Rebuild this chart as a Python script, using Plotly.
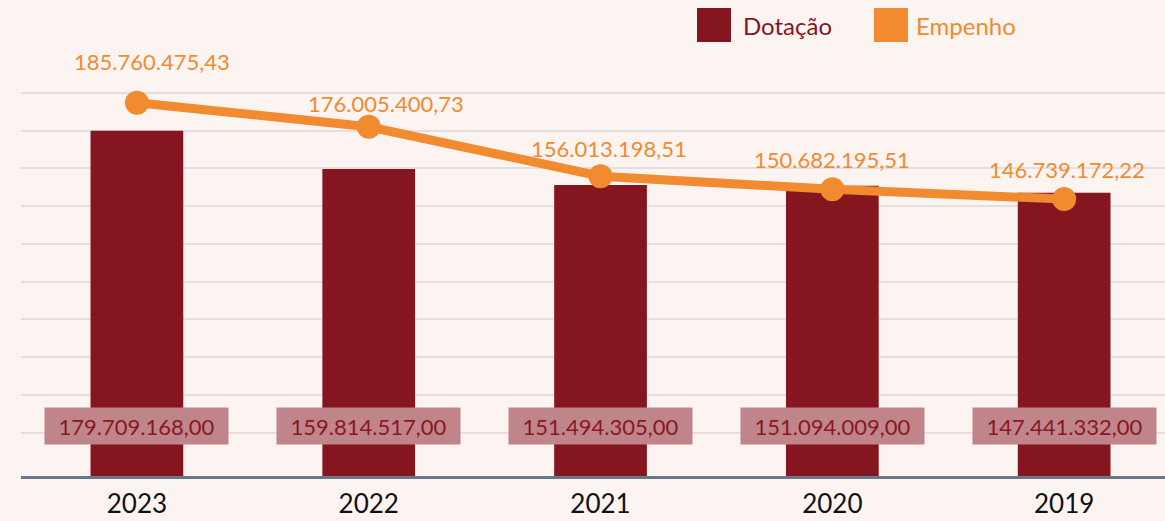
import plotly.graph_objects as go

# Budget data (R$)
years = ["2023", "2022", "2021", "2020", "2019"]
dotacao = [179709168.00, 159814517.00, 151494305.00, 151094009.00, 147441332.00]
empenho = [185760475.43, 176005400.73, 156013198.51, 150682195.51, 146739172.22]


def fmt_brl(v):
    s = f"{v:,.2f}"
    return s.replace(",", "X").replace(".", ",").replace("X", ".")


BG = "#fcf4f1"
BAR = "#85161f"
ORANGE = "#f28a30"
LABEL_BOX = "#c0848b"
LABEL_TXT = "#8a1824"
FONT = "Lato"

# label offsets (px) for the Empenho value labels
emp_xshift = [15, 17, 8, 0, 3]
emp_yshift = [41, 23, 28, 30, 30]

# horizontal gridlines on the primary axis
grid_vals = [22.56e6 + 19.64e6 * k for k in range(10)]

fig = go.Figure()

fig.add_trace(go.Bar(
    x=years, y=dotacao, name="Dotação",
    marker=dict(color=BAR, line=dict(width=0)),
    width=0.4, hoverinfo="skip",
))

fig.add_trace(go.Scatter(
    x=years, y=empenho, name="Empenho", yaxis="y2",
    mode="lines+markers",
    line=dict(color=ORANGE, width=9),
    marker=dict(color=ORANGE, size=24),
    hoverinfo="skip",
))

annotations = []
# Dotação labels in boxes near the bar base (x given as category index)
for i, v in enumerate(dotacao):
    annotations.append(dict(
        x=i, y=0, xref="x", yref="y", yshift=50,
        text=fmt_brl(v), showarrow=False,
        font=dict(family=FONT, size=22, color=LABEL_TXT),
        bgcolor=LABEL_BOX, width=181, height=34,
        xanchor="center", yanchor="middle",
    ))
# Empenho labels above the markers
for i, (v, dx, dy) in enumerate(zip(empenho, emp_xshift, emp_yshift)):
    annotations.append(dict(
        x=i, y=v, xref="x", yref="y2", xshift=dx, yshift=dy,
        text=fmt_brl(v), showarrow=False,
        font=dict(family=FONT, size=22, color=ORANGE),
        xanchor="center", yanchor="middle",
    ))

# Legend drawn by hand (large square swatches)
PL, PW, PB, PH = 21, 1144, 476, 476


def px_x(p):
    return (p - PL) / PW


def px_y(p):
    return (PB - p) / PH


shapes = [
    dict(type="rect", xref="paper", yref="paper",
         x0=px_x(697), x1=px_x(731), y0=px_y(42), y1=px_y(8),
         fillcolor=BAR, line=dict(width=0)),
    dict(type="rect", xref="paper", yref="paper",
         x0=px_x(874), x1=px_x(908), y0=px_y(42), y1=px_y(8),
         fillcolor=ORANGE, line=dict(width=0)),
]
annotations.append(dict(
    x=px_x(741), y=px_y(25), xref="paper", yref="paper",
    text="Dotação", showarrow=False, xanchor="left", yanchor="middle",
    font=dict(family=FONT, size=24, color=BAR),
))
annotations.append(dict(
    x=px_x(914), y=px_y(25), xref="paper", yref="paper",
    text="Empenho", showarrow=False, xanchor="left", yanchor="middle",
    font=dict(family=FONT, size=24, color=ORANGE),
))

fig.update_layout(
    width=1165, height=521,
    margin=dict(l=PL, r=0, t=0, b=521 - PB, autoexpand=False),
    paper_bgcolor=BG, plot_bgcolor=BG,
    showlegend=False,
    bargap=0.6,
    xaxis=dict(
        type="category", range=[-0.5, 4.435], automargin=False,
        showgrid=False, zeroline=False,
        showline=True, linecolor="#66788a", linewidth=3,
        ticks="", tickfont=dict(family=FONT, size=26, color="#111111"),
        ticklabelstandoff=3,
    ),
    yaxis=dict(
        range=[0, 247.72e6], automargin=False,
        tickmode="array", tickvals=grid_vals,
        showgrid=True, gridcolor="#e4dfde", gridwidth=2,
        zeroline=False, showticklabels=False, ticks="",
    ),
    yaxis2=dict(
        overlaying="y", side="right", automargin=False,
        range=[34.65e6, 227.32e6],
        showgrid=False, zeroline=False, showticklabels=False, ticks="",
    ),
    annotations=annotations,
    shapes=shapes,
)

fig.write_html("out.html")
